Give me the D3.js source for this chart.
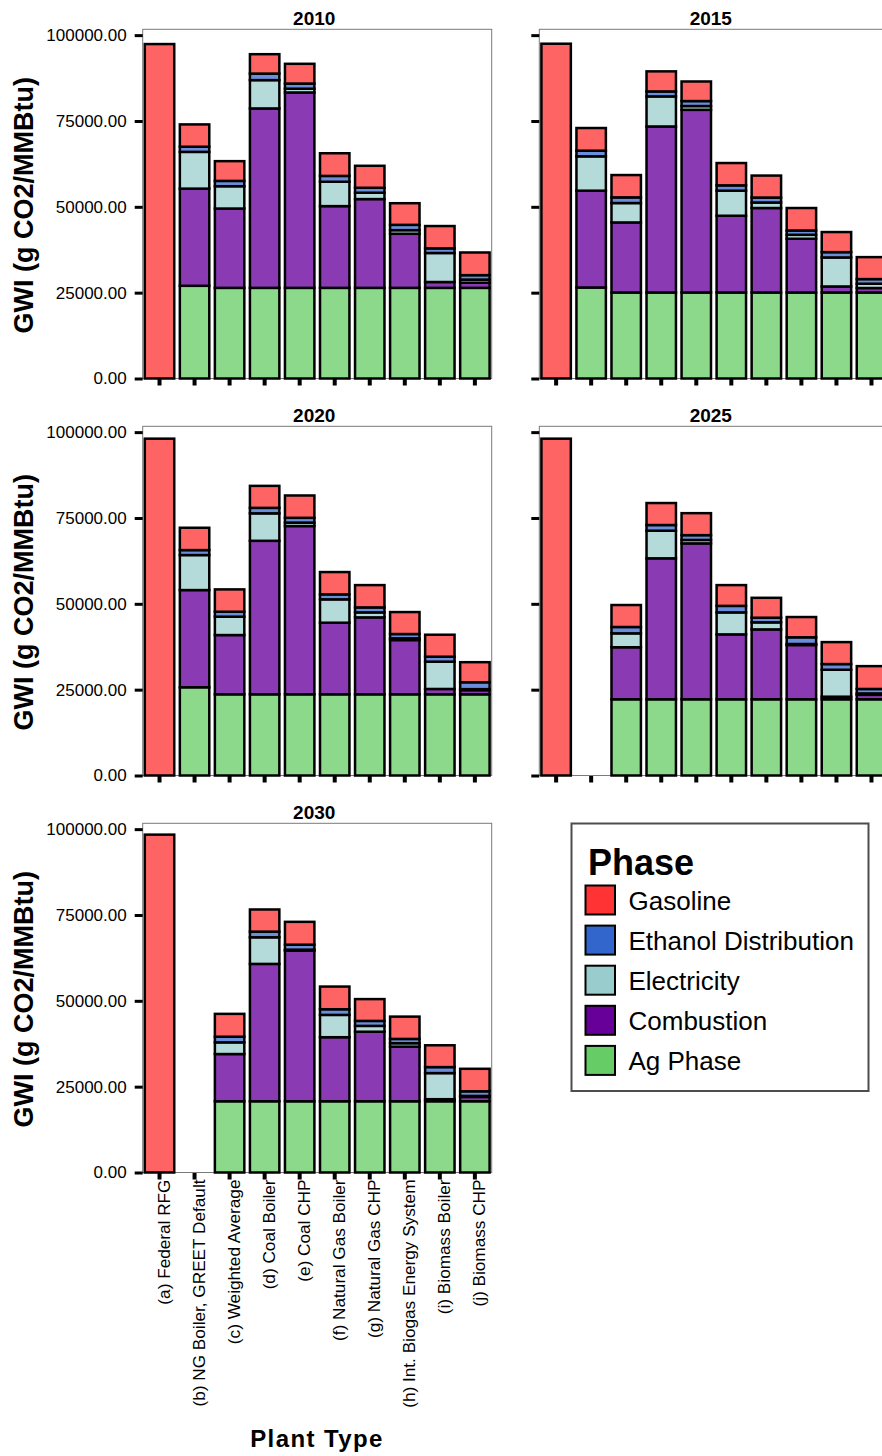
<!DOCTYPE html>
<html>
<head>
<meta charset="utf-8">
<script src="https://cdnjs.cloudflare.com/ajax/libs/d3/7.8.5/d3.min.js"></script>
<style>
    body { margin: 0; background: #fff; }
    text { font-family: "Liberation Sans", Arial, sans-serif; }
</style>
</head>
<body>
<script>
//wrap everything in anon function
(function(){
    //plant types along the x axis
    var plantTypes = ["(a) Federal RFG", "(b) NG Boiler, GREET Default", "(c) Weighted Average",
        "(d) Coal Boiler", "(e) Coal CHP", "(f) Natural Gas Boiler", "(g) Natural Gas CHP",
        "(h) Int. Biogas Energy System", "(i) Biomass Boiler", "(j) Biomass CHP"];
    //one panel per year
    var years = ["2010", "2015", "2020", "2025", "2030"];
    //stack order, bottom to top
    var phases = ["Ag Phase", "Combustion", "Electricity", "Ethanol Distribution", "Gasoline"];
    //legend order, top to bottom
    var legendPhases = ["Gasoline", "Ethanol Distribution", "Electricity", "Combustion", "Ag Phase"];

    //values (g CO2/MMBtu), one row per year, columns follow plantTypes; null = no bar
    var agPhase = [
        [0, 27000, 26400, 26400, 26400, 26400, 26400, 26400, 26400, 26400],
        [0, 26500, 25050, 25050, 25050, 25050, 25050, 25050, 25050, 25050],
        [0, 25700, 23650, 23650, 23650, 23650, 23650, 23650, 23650, 23650],
        [0, null, 22200, 22200, 22200, 22200, 22200, 22200, 22200, 22200],
        [0, null, 20750, 20750, 20750, 20750, 20750, 20750, 20750, 20750]
    ];
    var combustion = [
        [0, 28300, 23100, 52250, 56900, 23800, 25850, 15750, 1700, 1500],
        [0, 28200, 20400, 48350, 53200, 22350, 24600, 15650, 1750, 1300],
        [0, 28300, 17250, 44700, 49000, 20850, 22400, 15800, 1550, 1200],
        [0, null, 15150, 41050, 45400, 18900, 20350, 15800, 750, 1300],
        [0, null, 13750, 40000, 43850, 18650, 20250, 15900, 600, 1250]
    ];
    var electricity = [
        [0, 10700, 6500, 8250, 1100, 7100, 1850, 1050, 8450, 900],
        [0, 10000, 5650, 8750, 1100, 7300, 1600, 1150, 8450, 1250],
        [0, 10200, 5350, 8000, 1000, 6800, 1450, 500, 7950, 300],
        [0, null, 4050, 8050, 1000, 6400, 2050, 300, 7850, 400],
        [0, null, 3400, 7750, 300, 6500, 1700, 1000, 7600, 300]
    ];
    var ethanolDist = [
        [0, 1500, 1550, 1900, 1500, 1700, 1450, 1550, 1350, 1300],
        [0, 1650, 1650, 1450, 1450, 1550, 1450, 1250, 1550, 1350],
        [0, 1450, 1450, 1600, 1400, 1450, 1450, 1250, 1450, 2000],
        [0, null, 1850, 1650, 1400, 1900, 1350, 1950, 1650, 1300],
        [0, null, 1650, 1650, 1450, 1650, 1450, 1250, 1750, 1350]
    ];
    var gasoline = [
        [97400, 6500, 5750, 5650, 5750, 6600, 6400, 6300, 6500, 6600],
        [97500, 6600, 6500, 5850, 5700, 6500, 6400, 6550, 5850, 6400],
        [98100, 6500, 6500, 6400, 6500, 6500, 6500, 6400, 6400, 5850],
        [98100, null, 6400, 6400, 6400, 6050, 5800, 5900, 6400, 6650],
        [98400, null, 6650, 6450, 6650, 6600, 6350, 6500, 6350, 6550]
    ];
    //y axis ticks
    var yTicks = [0, 25000, 50000, 75000, 100000];

    //bar fills (textured look approximated by lighter tones) and legend swatches
    var barColors = {"Gasoline": "#ff6464", "Ethanol Distribution": "#6a8edb",
        "Electricity": "#b4dada", "Combustion": "#8a3bb3", "Ag Phase": "#8cd98c"};
    var swatchColors = {"Gasoline": "#ff3333", "Ethanol Distribution": "#3366cc",
        "Electricity": "#99cccc", "Combustion": "#660099", "Ag Phase": "#66cc66"};

    //frame dimensions
    var width = 882,
        height = 1456;
    var colX = [142.7, 539.3],
        rowTop = [29.3, 426.3, 823.3],
        panelW = 349,
        panelH = 349.2;

    var svg = d3.select("body")
        .append("svg")
        .attr("width", width)
        .attr("height", height);

    //shared scales (panel local)
    var x = d3.scaleBand()
        .domain(plantTypes)
        .range([0, panelW])
        .paddingInner(0.16)
        .paddingOuter(0.06);

    var y = d3.scaleLinear()
        .domain([0, 101700])
        .range([panelH, 0]);

    var stack = d3.stack().keys(phases);

    //build one panel per year
    years.forEach(function(year, yi){
        var col = yi % 2,
            row = Math.floor(yi / 2);

        var g = svg.append("g")
            .attr("class", "panel")
            .attr("transform", "translate(" + colX[col] + "," + rowTop[row] + ")");

        //frame
        g.append("rect")
            .attr("width", panelW)
            .attr("height", panelH)
            .attr("fill", "none")
            .attr("stroke", "#7a7a7a")
            .attr("stroke-width", 1);

        //rows for the stack, drop missing bars
        var rows = [];
        plantTypes.forEach(function(p, i){
            if (gasoline[yi][i] === null) return;
            rows.push({
                type: p,
                "Ag Phase": agPhase[yi][i],
                "Combustion": combustion[yi][i],
                "Electricity": electricity[yi][i],
                "Ethanol Distribution": ethanolDist[yi][i],
                "Gasoline": gasoline[yi][i]
            });
        });

        var series = stack(rows);

        g.selectAll(".phase")
            .data(series)
            .enter()
            .append("g")
            .attr("class", "phase")
            .attr("fill", function(d){ return barColors[d.key]; })
            .selectAll("rect")
            .data(function(d){ return d.filter(function(s){ return s[1] - s[0] > 0; }); })
            .enter()
            .append("rect")
            .attr("x", function(d){ return x(d.data.type); })
            .attr("width", x.bandwidth())
            .attr("y", function(d){ return y(d[1]); })
            .attr("height", function(d){ return y(d[0]) - y(d[1]); })
            .attr("stroke", "#000")
            .attr("stroke-width", 2.5);

        //y axis, labels only on the left column
        var yAxis = d3.axisLeft(y)
            .tickValues(yTicks)
            .tickSize(8)
            .tickPadding(8)
            .tickFormat(col === 0 ? d3.format(".2f") : "");

        var ya = g.append("g").call(yAxis);
        ya.select(".domain").remove();
        ya.selectAll(".tick line").attr("stroke", "#000").attr("stroke-width", 3);
        ya.selectAll(".tick text")
            .attr("fill", "#000")
            .style("font-size", "17px");

        //x axis, labels only on the bottom row
        var xAxis = d3.axisBottom(x)
            .tickSize(7)
            .tickFormat(row === 2 ? null : "");

        var xa = g.append("g")
            .attr("transform", "translate(0," + panelH + ")")
            .call(xAxis);
        xa.select(".domain").remove();
        xa.selectAll(".tick line")
            .attr("stroke", "#000")
            .attr("stroke-width", 4)
            .attr("y1", 0.5);
        if (row === 2){
            xa.selectAll(".tick text")
                .attr("transform", "rotate(-90)")
                .attr("text-anchor", "end")
                .attr("x", -7)
                .attr("y", 0)
                .attr("dy", 10.3)
                .attr("fill", "#000")
                .style("font-size", "17.2px");
        }

        //panel title
        g.append("text")
            .attr("x", panelW / 2 - 3)
            .attr("y", -4.3)
            .attr("text-anchor", "middle")
            .style("font-size", "19px")
            .style("font-weight", "bold")
            .text(year);

        //y axis title on left column
        if (col === 0){
            svg.append("text")
                .attr("transform", "translate(32.5," + (rowTop[row] + 176) + ") rotate(-90)")
                .attr("text-anchor", "middle")
                .style("font-size", "27px")
                .style("font-weight", "bold")
                .text("GWI (g CO2/MMBtu)");
        }
    });

    //x axis title
    svg.append("text")
        .attr("x", 317)
        .attr("y", 1446.5)
        .attr("text-anchor", "middle")
        .style("font-size", "24px")
        .style("font-weight", "bold")
        .style("letter-spacing", "1.4px")
        .text("Plant Type");

    //legend
    var legend = svg.append("g")
        .attr("class", "legend")
        .attr("transform", "translate(571.5,823.5)");

    legend.append("rect")
        .attr("width", 297)
        .attr("height", 267.5)
        .attr("fill", "#fff")
        .attr("stroke", "#4d4d4d")
        .attr("stroke-width", 2);

    legend.append("text")
        .attr("x", 16.5)
        .attr("y", 51.5)
        .style("font-size", "36px")
        .style("font-weight", "bold")
        .text("Phase");

    var items = legend.selectAll(".item")
        .data(legendPhases)
        .enter()
        .append("g")
        .attr("class", "item")
        .attr("transform", function(d, i){ return "translate(14," + (62 + i * 40.1) + ")"; });

    items.append("rect")
        .attr("width", 29.5)
        .attr("height", 29)
        .attr("fill", function(d){ return swatchColors[d]; })
        .attr("stroke", "#000")
        .attr("stroke-width", 2);

    items.append("text")
        .attr("x", 43)
        .attr("y", 24.5)
        .style("font-size", "26px")
        .text(function(d){ return d; });
})();
</script>
</body>
</html>
